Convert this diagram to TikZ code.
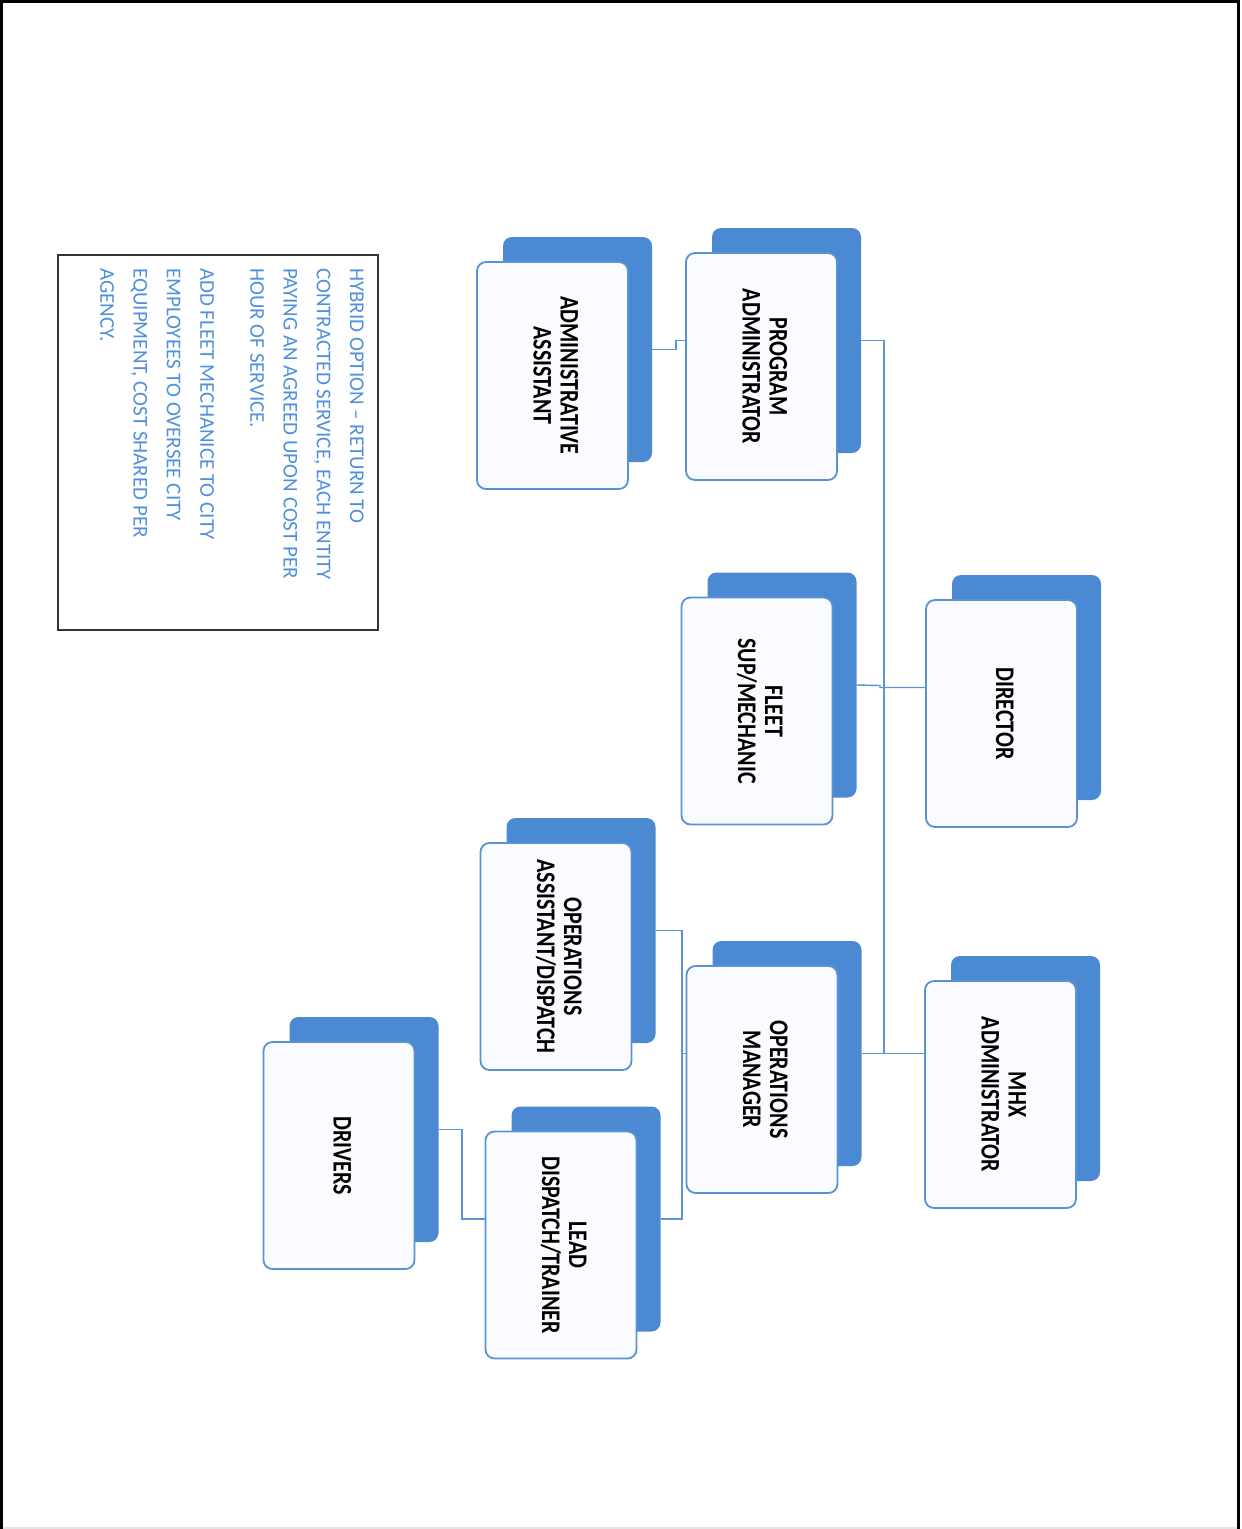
\documentclass[tikz,border=0pt]{standalone}
\usepackage{fontspec}
\setmainfont{Carlito}
\usepackage{graphicx}
\usetikzlibrary{calc}
\definecolor{boxblue}{HTML}{4B8AD3}
\definecolor{edgeblue}{HTML}{5A93D4}
\definecolor{lineblue}{HTML}{5B95D3}
\definecolor{notetext}{HTML}{4F8FDB}
\definecolor{frontfill}{HTML}{F9FBFE}
\newcommand\boxtext[1]{\rotatebox{-90}{\scalebox{1}[1.22]{\begin{tabular}{@{}c@{}}#1\end{tabular}}}}
\newcommand\orgbox[4]{%
  \node[backbox] (#1b) at ({#2+25},{#3-26}) {};
  \node[frontbox] (#1) at (#2,#3) {\boxtext{#4}};}
\begin{document}
\begin{tikzpicture}[x=1pt,y=-1pt,
  backbox/.style={fill=boxblue, draw=none, rounded corners=9pt, minimum width=149pt, minimum height=225pt, inner sep=0pt},
  frontbox/.style={draw=edgeblue, line width=1.8pt, fill=frontfill, rounded corners=9pt, minimum width=151pt, minimum height=227pt, inner sep=0pt, font=\bfseries\fontsize{22}{22}\selectfont},
  link/.style={draw=lineblue, line width=1.4pt},
  notebox/.style={draw=black!80, line width=1.5pt, minimum width=320pt, minimum height=375pt, inner sep=0pt},
  notestyle/.style={text=notetext, align=left, inner sep=0pt, font=\fontsize{21}{33.3}\selectfont}]
\useasboundingbox (0,0) rectangle (1242,1529);
% page frame
\draw[black, line width=3pt] (1.5,1529) -- (1.5,1.5) -- (1238.5,1.5) -- (1238.5,1529);
\draw[black!10, line width=1.5pt] (3,1528) -- (1237,1528);
% boxes
\orgbox{dir}{1001.5}{713.5}{DIRECTOR}
\orgbox{pa}{761.5}{366.5}{PROGRAM\\ADMINISTRATOR}
\orgbox{aa}{552.5}{375.5}{ADMINISTRATIVE\\ASSISTANT}
\orgbox{fleet}{757}{711}{FLEET\\SUP/MECHANIC}
\orgbox{oa}{556}{956.5}{OPERATIONS\\ASSISTANT/DISPATCH}
\orgbox{om}{762}{1079.5}{OPERATIONS\\MANAGER}
\orgbox{mhx}{1000.5}{1094.5}{MHX\\ADMINISTRATOR}
\orgbox{drv}{339}{1155.5}{DRIVERS}
\orgbox{lead}{561}{1245}{LEAD\\DISPATCH/TRAINER}
% connectors
\coordinate (trtop) at (884,340.5);
\coordinate (trbot) at (884,1053.5);
\draw[link] (pab.east) -- (trtop) -- (trbot);
\draw[link] (omb.east) -- (mhx.west |- omb.east);
\coordinate (fj) at (880,685.5);
\draw[link] (fleetb.east) -- (fj) -- (fj |- dirb.center) -- (dir.west |- dirb.center);
\coordinate (aj) at (676,349.5);
\draw[link] (aab.east) -- (aj) -- (aj |- pab.center) -- (pa.west |- pab.center);
\coordinate (oj) at (682,930.5);
\draw[link] (oab.east) -- (oj) -- (oj |- leadb.center) -- (leadb.east);
\draw[link] (oj |- omb.center) -- (om.west |- omb.center);
\coordinate (dj) at (462,1129.5);
\draw[link] (drvb.east) -- (dj) -- (dj |- leadb.center) -- (lead.west |- leadb.center);
% note
\node[notebox] (note) at (218,442.5) {};
\node[notestyle, rotate=-90, anchor=north west] (notetxt) at (364,268) {HYBRID OPTION -- RETURN TO\\CONTRACTED SERVICE, EACH ENTITY\\PAYING AN AGREED UPON COST PER\\HOUR OF SERVICE.\\[16.7pt]ADD FLEET MECHANICE TO CITY\\EMPLOYEES TO OVERSEE CITY\\EQUIPMENT, COST SHARED PER\\AGENCY.};
\end{tikzpicture}
\end{document}
